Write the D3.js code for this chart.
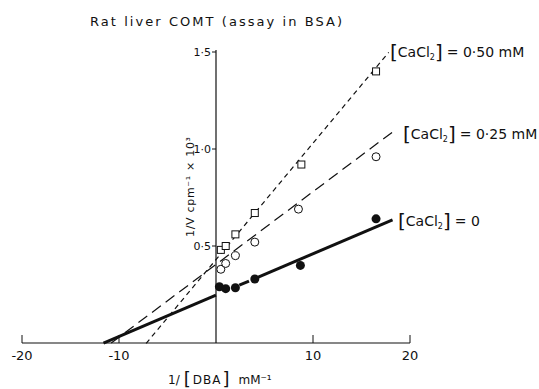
<!DOCTYPE html>
<html>
<head>
<meta charset="utf-8">
<script src="https://cdn.jsdelivr.net/npm/d3@7"></script>
<style>
  body { margin: 0; background: #fff; }
  text { font-family: "DejaVu Sans", sans-serif; fill: #111; }
</style>
</head>
<body>
<div id="chart"></div>
<script>
// data (1/[DBA] in mM^-1, 1/V in cpm^-1 x 10^3)
const xTicks = [-20, -10, 10, 20];
const yTicks = [0.5, 1.0, 1.5];
const yTickLabels = ["0·5", "1·0", "1·5"];

const ca0X = [0.35, 1.0, 2.0, 4.0, 8.7, 16.5];
const ca0Y = [0.29, 0.28, 0.285, 0.33, 0.40, 0.64];

const ca25X = [0.5, 1.0, 2.0, 4.0, 8.5, 16.5];
const ca25Y = [0.38, 0.41, 0.45, 0.52, 0.69, 0.96];

const ca50X = [0.5, 1.0, 2.0, 4.0, 8.8, 16.5];
const ca50Y = [0.48, 0.50, 0.56, 0.67, 0.92, 1.40];

// fitted lines: [intercept on y, slope, x start, x end]
const fit0 = [0.247, 0.0213, -11.6, 18.2];
const fit25 = [0.405, 0.0375, -10.8, 18.6];
const fit50 = [0.43, 0.06, -7.2, 17.8];

const labelConc = ["0·50 mM", "0·25 mM", "0"];

const width = 539, height = 389;
const svg = d3.select("#chart").append("svg")
  .attr("width", width)
  .attr("height", height);

const x = d3.scaleLinear().domain([-20, 20]).range([22, 410]);
const y = d3.scaleLinear().domain([0, 1.5]).range([343, 52]);

// title
svg.append("text")
  .attr("x", 90).attr("y", 26)
  .attr("font-size", 13)
  .attr("textLength", 252)
  .text("Rat liver COMT (assay in BSA)");

// axes
svg.append("line")
  .attr("x1", x(-20)).attr("x2", x(20))
  .attr("y1", y(0)).attr("y2", y(0))
  .attr("stroke", "#111").attr("stroke-width", 1.2);
svg.append("line")
  .attr("x1", x(0)).attr("x2", x(0))
  .attr("y1", y(0)).attr("y2", y(1.5) - 2)
  .attr("stroke", "#111").attr("stroke-width", 1.2);

svg.selectAll("line.xtick").data(xTicks).enter().append("line")
  .attr("class", "xtick")
  .attr("x1", d => x(d)).attr("x2", d => x(d))
  .attr("y1", y(0)).attr("y2", y(0) - 8)
  .attr("stroke", "#111");
svg.selectAll("text.xtick").data(xTicks).enter().append("text")
  .attr("class", "xtick")
  .attr("x", d => x(d)).attr("y", y(0) + 17)
  .attr("text-anchor", "middle")
  .attr("font-size", 13)
  .text(d => d);

svg.selectAll("line.ytick").data(yTicks).enter().append("line")
  .attr("class", "ytick")
  .attr("x1", x(0) - 4).attr("x2", x(0))
  .attr("y1", d => y(d)).attr("y2", d => y(d))
  .attr("stroke", "#111");
svg.selectAll("text.ytick").data(yTicks).enter().append("text")
  .attr("class", "ytick")
  .attr("x", x(0) - 5).attr("y", d => y(d) + 4)
  .attr("text-anchor", "end")
  .attr("font-size", 11)
  .text((d, i) => yTickLabels[i]);

// axis titles
svg.append("text")
  .attr("transform", "translate(" + 194 + "," + 237 + ") rotate(-90)")
  .attr("font-size", 11)
  .attr("textLength", 100)
  .text("1/V cpm⁻¹ × 10³");

const xt = svg.append("text")
  .attr("x", 168).attr("y", 384)
  .attr("font-size", 12);
xt.append("tspan").text("1/");
xt.append("tspan").attr("font-size", 18).attr("dx", 4).attr("dy", 1).text("[");
xt.append("tspan").attr("dx", 2).attr("dy", -1).attr("letter-spacing", 1).text("DBA");
xt.append("tspan").attr("font-size", 18).attr("dx", 1).attr("dy", 1).text("]");
xt.append("tspan").attr("dx", 9).attr("dy", -1).text("mM⁻¹");

// regression lines
function seg(fit, x0, x1) {
  return [[x(x0), y(fit[0] + fit[1] * x0)], [x(x1), y(fit[0] + fit[1] * x1)]];
}
const line = d3.line();

svg.append("path")
  .attr("d", line(seg(fit50, fit50[2], fit50[3])))
  .attr("fill", "none").attr("stroke", "#111").attr("stroke-width", 1.2)
  .attr("stroke-dasharray", "5,4");
svg.append("path")
  .attr("d", line(seg(fit25, fit25[2], fit25[3])))
  .attr("fill", "none").attr("stroke", "#111").attr("stroke-width", 1.2)
  .attr("stroke-dasharray", "11,6");

// solid line, broken near the crowded points
[[fit0[2], 0], [2.4, 3.4], [4.3, fit0[3]]].forEach(r => {
  svg.append("path")
    .attr("d", line(seg(fit0, r[0], r[1])))
    .attr("fill", "none").attr("stroke", "#111").attr("stroke-width", 3);
});

// points
const pts0 = ca0X.map((v, i) => [v, ca0Y[i]]);
const pts25 = ca25X.map((v, i) => [v, ca25Y[i]]);
const pts50 = ca50X.map((v, i) => [v, ca50Y[i]]);

svg.selectAll("rect.sq").data(pts50).enter().append("rect")
  .attr("class", "sq")
  .attr("x", d => x(d[0]) - 3.5).attr("y", d => y(d[1]) - 3.5)
  .attr("width", 7).attr("height", 7)
  .attr("fill", "#fff").attr("stroke", "#111").attr("stroke-width", 1);

svg.selectAll("circle.open").data(pts25).enter().append("circle")
  .attr("class", "open")
  .attr("cx", d => x(d[0])).attr("cy", d => y(d[1]))
  .attr("r", 4)
  .attr("fill", "#fff").attr("stroke", "#111").attr("stroke-width", 1);

svg.selectAll("circle.filled").data(pts0).enter().append("circle")
  .attr("class", "filled")
  .attr("cx", d => x(d[0])).attr("cy", d => y(d[1]))
  .attr("r", 4.5)
  .attr("fill", "#111");

// line labels, with tall brackets
const labelPos = [[390, 57], [403, 139], [398, 226]];
labelConc.forEach((c, i) => {
  const t = svg.append("text")
    .attr("x", labelPos[i][0]).attr("y", labelPos[i][1])
    .attr("font-size", 14);
  t.append("tspan").attr("font-size", 20).attr("dy", 2).text("[");
  t.append("tspan").attr("dy", -2).text("CaCl");
  t.append("tspan").attr("font-size", 8).attr("dy", 3).text("2");
  t.append("tspan").attr("font-size", 20).attr("dy", -1).text("]");
  t.append("tspan").attr("dy", -2).attr("dx", 4).text("= " + c);
});
</script>
</body>
</html>
